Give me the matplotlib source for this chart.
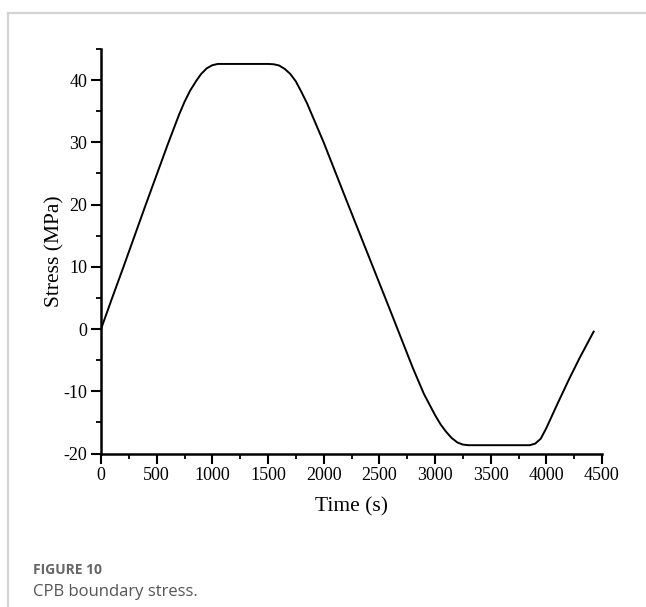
import matplotlib
matplotlib.use("Agg")
import matplotlib.pyplot as plt
from matplotlib.ticker import MultipleLocator
from matplotlib.lines import Line2D

plt.rcParams["axes.unicode_minus"] = False

time_s = [0, 100, 200, 300, 400, 500, 600, 700, 750, 800, 860, 900, 950, 1000, 1050,
          1500, 1550, 1600, 1650, 1700, 1750, 1800, 1850, 1900, 2000, 2200, 2400,
          2600, 2800, 2900, 3000, 3050, 3100, 3150, 3200, 3250, 3300,
          3850, 3900, 3950, 4000, 4100, 4200, 4300, 4425]
stress_mpa = [0, 5.0, 9.9, 14.9, 19.9, 24.8, 29.7, 34.4, 36.5, 38.3, 40.0, 41.0, 41.9, 42.4, 42.6,
              42.6, 42.55, 42.35, 41.8, 41.0, 39.8, 38.1, 36.3, 34.2, 30.0, 20.9, 11.9,
              2.9, -6.2, -10.4, -13.8, -15.3, -16.5, -17.5, -18.2, -18.55, -18.65,
              -18.65, -18.4, -17.6, -15.9, -12.0, -8.2, -4.6, -0.4]

x_ticks = [0, 500, 1000, 1500, 2000, 2500, 3000, 3500, 4000, 4500]
y_ticks = [-20, -10, 0, 10, 20, 30, 40]

fig = plt.figure(figsize=(6.46, 6.07), dpi=100)

# card frame (top and left light-grey border)
fig.add_artist(Line2D([8/646, 1.0], [1 - 13/607, 1 - 13/607], color="#d3d3d3", lw=1.6,
                      transform=fig.transFigure))
fig.add_artist(Line2D([8/646, 8/646], [0.0, 1 - 13/607], color="#d3d3d3", lw=1.6,
                      transform=fig.transFigure))

ax = fig.add_axes([101/646, (607-453.6)/607, (602-101)/646, (453.6-49)/607])
ax.plot(time_s, stress_mpa, color="black", lw=1.4)

ax.set_xlim(0, 4500)
ax.set_ylim(-20, 45)
ax.set_xticks(x_ticks)
ax.set_yticks(y_ticks)
ax.xaxis.set_minor_locator(MultipleLocator(250))
ax.yaxis.set_minor_locator(MultipleLocator(5))

for s in ["top", "right"]:
    ax.spines[s].set_visible(False)
for s in ["left", "bottom"]:
    ax.spines[s].set_linewidth(1.8)

serif = "Liberation Serif"
ax.tick_params(which="major", direction="out", length=7, width=1.5, labelsize=13, pad=3)
ax.tick_params(which="minor", direction="out", length=3.5, width=1.3)
for lbl in ax.get_xticklabels() + ax.get_yticklabels():
    lbl.set_fontfamily(serif)

ax.set_xlabel("Time (s)", fontsize=15.5, fontfamily=serif, labelpad=9)
ax.set_ylabel("Stress (MPa)", fontsize=15.5, fontfamily=serif, labelpad=-1)

fig.text(33/646, 1 - 570/607, "FIGURE 10", fontsize=10, fontweight="bold",
         color="#666666", fontfamily="Open Sans", va="center", ha="left")
fig.text(33/646, 1 - 592/607, "CPB boundary stress.", fontsize=12, color="#555555",
         fontfamily="Open Sans", va="center", ha="left")

fig.savefig("out.png", dpi=100)
